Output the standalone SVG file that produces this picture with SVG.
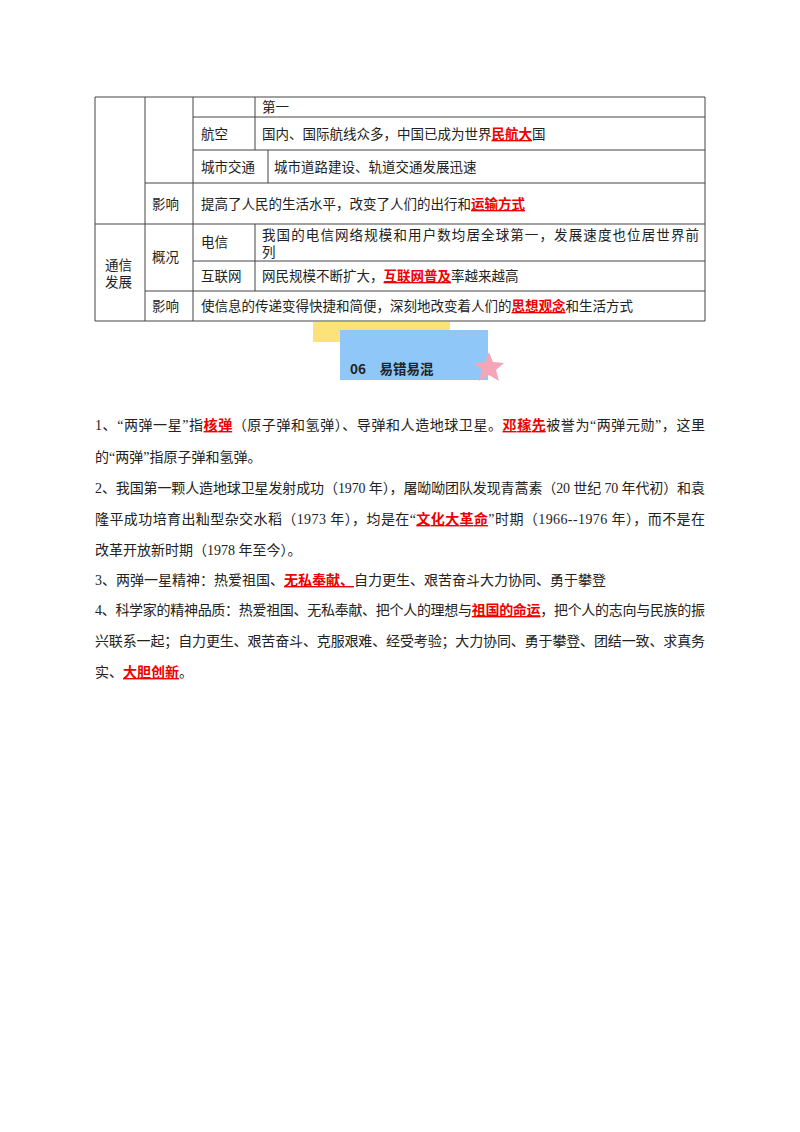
<svg xmlns="http://www.w3.org/2000/svg" width="800" height="1132" viewBox="0 0 800 1132">
<style>
text{font-family:"Liberation Serif","Noto Sans CJK SC",serif;font-size:13.5px;fill:#222}
.b{font-family:"Noto Sans CJK SC",sans-serif;font-weight:bold}
.r{fill:#e00;font-weight:bold;text-decoration:underline}
.g line{stroke:#444;stroke-width:1}
.p text{font-size:14px}
</style>
<rect width="800" height="1132" fill="#fff"/>
<g id="table" class="g">
<line x1="95" y1="97" x2="705" y2="97"/>
<line x1="95" y1="321" x2="705" y2="321"/>
<line x1="95" y1="97" x2="95" y2="321"/>
<line x1="705" y1="97" x2="705" y2="321"/>
<line x1="145" y1="97" x2="145" y2="321"/>
<line x1="193" y1="97" x2="193" y2="321"/>
<line x1="193" y1="117" x2="705" y2="117"/>
<line x1="193" y1="150" x2="705" y2="150"/>
<line x1="145" y1="183" x2="705" y2="183"/>
<line x1="95" y1="224" x2="705" y2="224"/>
<line x1="193" y1="261" x2="705" y2="261"/>
<line x1="145" y1="291" x2="705" y2="291"/>
<line x1="255" y1="97" x2="255" y2="150"/>
<line x1="268" y1="150" x2="268" y2="183"/>
<line x1="255" y1="224" x2="255" y2="291"/>
<text x="262" y="112">第一</text>
<text x="201" y="139">航空</text>
<text x="262" y="139">国内、国际航线众多，中国已成为世界<tspan class="r">民航大</tspan>国</text>
<text x="201" y="172">城市交通</text>
<text x="274" y="172">城市道路建设、轨道交通发展迅速</text>
<text x="152" y="209">影响</text>
<text x="201" y="209">提高了人民的生活水平，改变了人们的出行和<tspan class="r">运输方式</tspan></text>
<text x="105" y="270">通信</text>
<text x="105" y="287">发展</text>
<text x="152" y="262">概况</text>
<text x="201" y="247">电信</text>
<text x="262" y="240" textLength="437">我国的电信网络规模和用户数均居全球第一，发展速度也位居世界前</text>
<text x="262" y="257">列</text>
<text x="201" y="281">互联网</text>
<text x="262" y="281">网民规模不断扩大，<tspan class="r">互联网普及</tspan>率越来越高</text>
<text x="152" y="311">影响</text>
<text x="201" y="311">使信息的传递变得快捷和简便，深刻地改变着人们的<tspan class="r">思想观念</tspan>和生活方式</text>
</g>
<g id="header">
<rect x="313" y="322" width="137" height="20" fill="#fde27a"/>
<rect x="340" y="330" width="148" height="50" fill="#8fc8f8"/>
<text class="b" x="350" y="374" font-size="18" fill="#111">06　易错易混</text>
<polygon points="489,352 493,362 504,363 496,370 499,381 489,375 479,381 482,370 474,363 485,362" fill="#f4a6b8"/>
</g>
<g id="body" class="p">
<text x="95" y="430" textLength="610">1、“两弹一星”指<tspan class="r">核弹</tspan>（原子弹和氢弹）、导弹和人造地球卫星。<tspan class="r">邓稼先</tspan>被誉为“两弹元勋”，这里</text>
<text x="95" y="462">的“两弹”指原子弹和氢弹。</text>
<text x="95" y="493" textLength="610">2、我国第一颗人造地球卫星发射成功（1970 年），屠呦呦团队发现青蒿素（20 世纪 70 年代初）和袁</text>
<text x="95" y="524" textLength="610">隆平成功培育出籼型杂交水稻（1973 年），均是在“<tspan class="r">文化大革命</tspan>”时期（1966--1976 年），而不是在</text>
<text x="95" y="555">改革开放新时期（1978 年至今）。</text>
<text x="95" y="585">3、两弹一星精神：热爱祖国、<tspan class="r">无私奉献、</tspan>自力更生、艰苦奋斗大力协同、勇于攀登</text>
<text x="95" y="615" textLength="610">4、科学家的精神品质：热爱祖国、无私奉献、把个人的理想与<tspan class="r">祖国的命运</tspan>，把个人的志向与民族的振</text>
<text x="95" y="646" textLength="610">兴联系一起；自力更生、艰苦奋斗、克服艰难、经受考验；大力协同、勇于攀登、团结一致、求真务</text>
<text x="95" y="677">实、<tspan class="r">大胆创新</tspan>。</text>
</g>
</svg>
